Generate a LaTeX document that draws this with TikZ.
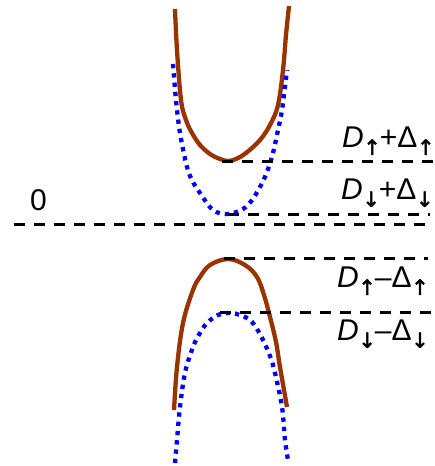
\documentclass[tikz,border=0pt]{standalone}
\usepackage{fontspec}
\setmainfont{Liberation Sans}
\newfontfamily\arrfont{DejaVu Sans}[FakeBold=2]
\definecolor{bandbrown}{RGB}{153,51,0}
\newcommand\sarr[1]{\raisebox{-0.26em}{\arrfont\fontsize{21}{22}\selectfont #1}}
\newcommand\dlabel[2]{\textit{D}\kern-0.5pt\sarr{#1}\kern-1pt#2Δ\kern-0.5pt\sarr{#1}}
\begin{document}
\begin{tikzpicture}[x=1pt,y=-1pt,
  level/.style={black,line width=3pt,dash pattern=on 11pt off 9pt},
  upband/.style={bandbrown,line width=4.3pt},
  dnband/.style={blue,line width=4.3pt,dash pattern=on 4.3pt off 5pt},
  lbl/.style={font=\fontsize{30}{36}\selectfont,anchor=base west,inner sep=0pt}]
\useasboundingbox (0,0) rectangle (434,466);
% bands
\draw[upband] plot[smooth,tension=0.6] coordinates {(175,9) (177,50) (181,100) (186,120) (192,133) (200,145) (210,154) (220,159) (228,161) (236,159) (246,153) (260,140) (270,125) (278,105) (283,70) (286,35) (289,6)};
\draw[dnband] plot[smooth,tension=0.6] coordinates {(173,64) (176,100) (180,133) (187,167) (193,182) (200,193) (213,210) (228,214) (243,209) (252,200) (260,187) (267,172) (273,153) (278,130) (282,110) (287,70)};
\draw[upband] plot[smooth,tension=0.6] coordinates {(174,410) (177,367) (183,323) (193,290) (200,277) (210,265) (228,259) (245,265) (257,277) (264,295) (270,317) (276,342) (280,367) (287,407)};
\draw[dnband] plot[smooth,tension=0.6] coordinates {(175,463) (177,440) (180,407) (185,373) (193,347) (200,333) (207,323) (218,315) (230,313) (240,315) (250,320) (257,329) (263,340) (270,356) (275,373) (282,407) (285,440) (288,460)};
% levels
\draw[level] (222,161) -- (434,161);
\draw[level] (228,214) -- (430,214);
\draw[level] (14,224) -- (425,224);
\draw[level] (224,258) -- (428,258);
\draw[level] (220,312) -- (434,312);
% labels
\node[lbl] (zero) at (30,210) {0};
\node[lbl] (l1) at (342,147) {\dlabel{↑}{+}};
\node[lbl] (l2) at (341,199) {\dlabel{↓}{+}};
\node[lbl] (l3) at (337,287) {\dlabel{↑}{–}};
\node[lbl] (l4) at (337,340) {\dlabel{↓}{–}};
\end{tikzpicture}
\end{document}
